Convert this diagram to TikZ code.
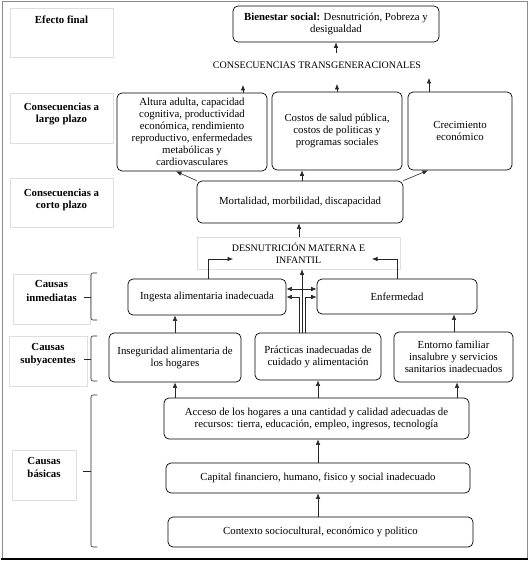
\documentclass[tikz,border=0pt]{standalone}
\usepackage{fontspec}
\setmainfont{Liberation Serif}
\usetikzlibrary{arrows.meta,calc}
\begin{document}
\begin{tikzpicture}[x=1pt,y=-1pt,
  font=\fontsize{10.8}{12}\selectfont,
  mbox/.style={draw=black, line width=0.7pt, rounded corners=5pt, align=center, inner sep=0pt},
  gbox/.style={draw=black!13, line width=0.6pt, inner sep=0pt},
  smalltext/.style={font=\fontsize{10}{11.5}\selectfont},
  ltext/.style={font=\fontsize{10.8}{13}\selectfont\bfseries, align=center, inner sep=0pt, anchor=north},
  arr/.style={draw=black!85, line width=0.6pt, -{Latex[length=5.5pt,width=4.5pt]}},
  darr/.style={draw=black!85, line width=0.6pt, {Latex[length=5.5pt,width=4.5pt]}-{Latex[length=5.5pt,width=4.5pt]}},
  bracepath/.style={draw=black!85, line width=0.6pt, rounded corners=2pt}
]
\useasboundingbox (0,0) rectangle (530,561);

% outer frame
\draw[black!45, line width=0.8pt] (2,559) -- (2,1) -- (527,1) -- (527,559);
\draw[black, line width=1.8pt] (1,559) -- (528,559);

% left label boxes
\node[gbox, minimum width=103pt, minimum height=49pt, anchor=north west] (l1) at (10,8) {};
\node[ltext] (t1) at (61.5,15.5) {Efecto final};
\node[gbox, minimum width=103pt, minimum height=50pt, anchor=north west] (l2) at (10,93) {};
\node[ltext, font=\fontsize{10.8}{12}\selectfont\bfseries] (t2) at (61.5,102.5) {Consecuencias a\\largo plazo};
\node[gbox, minimum width=103pt, minimum height=49pt, anchor=north west] (l3) at (10,178) {};
\node[ltext, font=\fontsize{10.8}{12}\selectfont\bfseries] (t3) at (61.5,188.5) {Consecuencias a\\corto plazo};
\node[gbox, minimum width=77pt, minimum height=50pt, anchor=north west] (l4) at (13,274) {};
\node[ltext, font=\fontsize{10.8}{14}\selectfont\bfseries] (t4) at (51.5,280.5) {Causas\\inmediatas};
\node[gbox, minimum width=78pt, minimum height=50pt, anchor=north west] (l5) at (9,336) {};
\node[ltext] (t5) at (48,343.5) {Causas\\subyacentes};
\node[gbox, minimum width=64pt, minimum height=50pt, anchor=north west] (l6) at (12,450) {};
\node[ltext] (t6) at (44,457.5) {Causas\\básicas};

% braces
\draw[bracepath] (97,273) -- (91,273) -- (91,320) -- (97,320);
\draw[bracepath] (84,297) -- (91,297);
\draw[bracepath] (97,336) -- (91,336) -- (91,381) -- (97,381);
\draw[bracepath] (84,359) -- (91,359);
\draw[bracepath] (97,395) -- (91,395) -- (91,547) -- (97,547);
\draw[bracepath] (83,471) -- (91,471);

% main boxes
\node[mbox, minimum width=206pt, minimum height=36pt] (bien) at (336,24)
  {\textbf{Bienestar social:} Desnutrición, Pobreza y\\desigualdad};
\node[inner sep=0pt, smalltext] (trans) at (317,65) {CONSECUENCIAS TRANSGENERACIONALES};
\node[mbox, minimum width=150pt, minimum height=78pt] (alt) at (192,132)
  {Altura adulta, capacidad\\cognitiva, productividad\\económica, rendimiento\\reproductivo, enfermedades\\metabólicas y\\cardiovasculares};
\node[mbox, minimum width=130pt, minimum height=78pt] (cost) at (337,131)
  {Costos de salud pública,\\costos de politicas y\\programas sociales};
\node[mbox, minimum width=104pt, minimum height=78pt] (crec) at (460,131)
  {Crecimiento\\económico};
\node[mbox, minimum width=206pt, minimum height=42pt] (mort) at (300,202)
  {Mortalidad, morbilidad, discapacidad};
\node[gbox, smalltext, minimum width=203pt, minimum height=32pt, align=center] (desn) at (298.5,253)
  {DESNUTRICIÓN MATERNA E\\INFANTIL};
\node[mbox, minimum width=158pt, minimum height=36pt] (ing) at (207,297)
  {Ingesta alimentaria inadecuada};
\node[mbox, minimum width=160pt, minimum height=35pt] (enf) at (397,296.5)
  {Enfermedad};
\node[mbox, minimum width=132pt, minimum height=49pt] (inseg) at (175,357.5)
  {Inseguridad alimentaria de\\los hogares};
\node[mbox, minimum width=126pt, minimum height=47pt] (prac) at (318,356.5)
  {Prácticas inadecuadas de\\cuidado y alimentación};
\node[mbox, minimum width=119pt, minimum height=50pt] (ent) at (453.5,357)
  {Entorno familiar\\insalubre y servicios\\sanitarios inadecuados};
\node[mbox, minimum width=305pt, minimum height=41pt] (acc) at (316.5,418.5)
  {Acceso de los hogares a una cantidad y calidad adecuadas de\\recursos: tierra, educación, empleo, ingresos, tecnología};
\node[mbox, minimum width=304pt, minimum height=30pt] (cap) at (318,478)
  {Capital financiero, humano, fisico y social inadecuado};
\node[mbox, minimum width=305pt, minimum height=30pt] (ctx) at (320.5,532)
  {Contexto sociocultural, económico y politico};

% free arrow ends
\coordinate (tTop) at (336,53);
\coordinate (tA) at (243,85);
\coordinate (tB) at (337,84);
\coordinate (tC) at (429,78);
\coordinate (ingTip) at (233,259);
\coordinate (enfTip) at (372,259);

% connectors
\draw[arr] (tTop) -- (bien.south -| tTop);
\draw[arr] (alt.north -| tA) -- (tA);
\draw[arr] (cost.north -| tB) -- (tB);
\draw[arr] (crec.north -| tC) -- (tC);
\draw[arr] (mort.north west) -- (alt.south -| 176,0);
\draw[arr] (mort.north -| 302,0) -- (cost.south -| 302,0);
\draw[arr] (mort.north east) -- (crec.south -| 428,0);
\draw[arr] (desn.north -| 299,0) -- (mort.south -| 299,0);
\draw[arr] (ing.north -| 208,0) |- (ingTip);
\draw[arr] (enf.north) |- (enfTip);
\draw[arr] (prac.north -| 302,0) -- (desn.south -| 302,0);
\draw[arr] (prac.north -| 299,0) |- (ing.east |- 0,297);
\draw[arr] (prac.north -| 305,0) |- (enf.west |- 0,297);
\draw[darr] (ing.east |- 0,289) -- (enf.west |- 0,289);
\draw[arr] (inseg.north) -- (ing.south -| inseg.north);
\draw[arr] (ent.north -| 454,0) -- (enf.south -| 454,0);
\draw[arr] (acc.north -| inseg.south) -- (inseg.south);
\draw[arr] (acc.north -| prac.south) -- (prac.south);
\draw[arr] (acc.north -| 457,0) -- (ent.south -| 457,0);
\draw[arr] (cap.north) -- (acc.south -| cap.north);
\draw[arr] (ctx.north -| cap.south) -- (cap.south);
\end{tikzpicture}
\end{document}
